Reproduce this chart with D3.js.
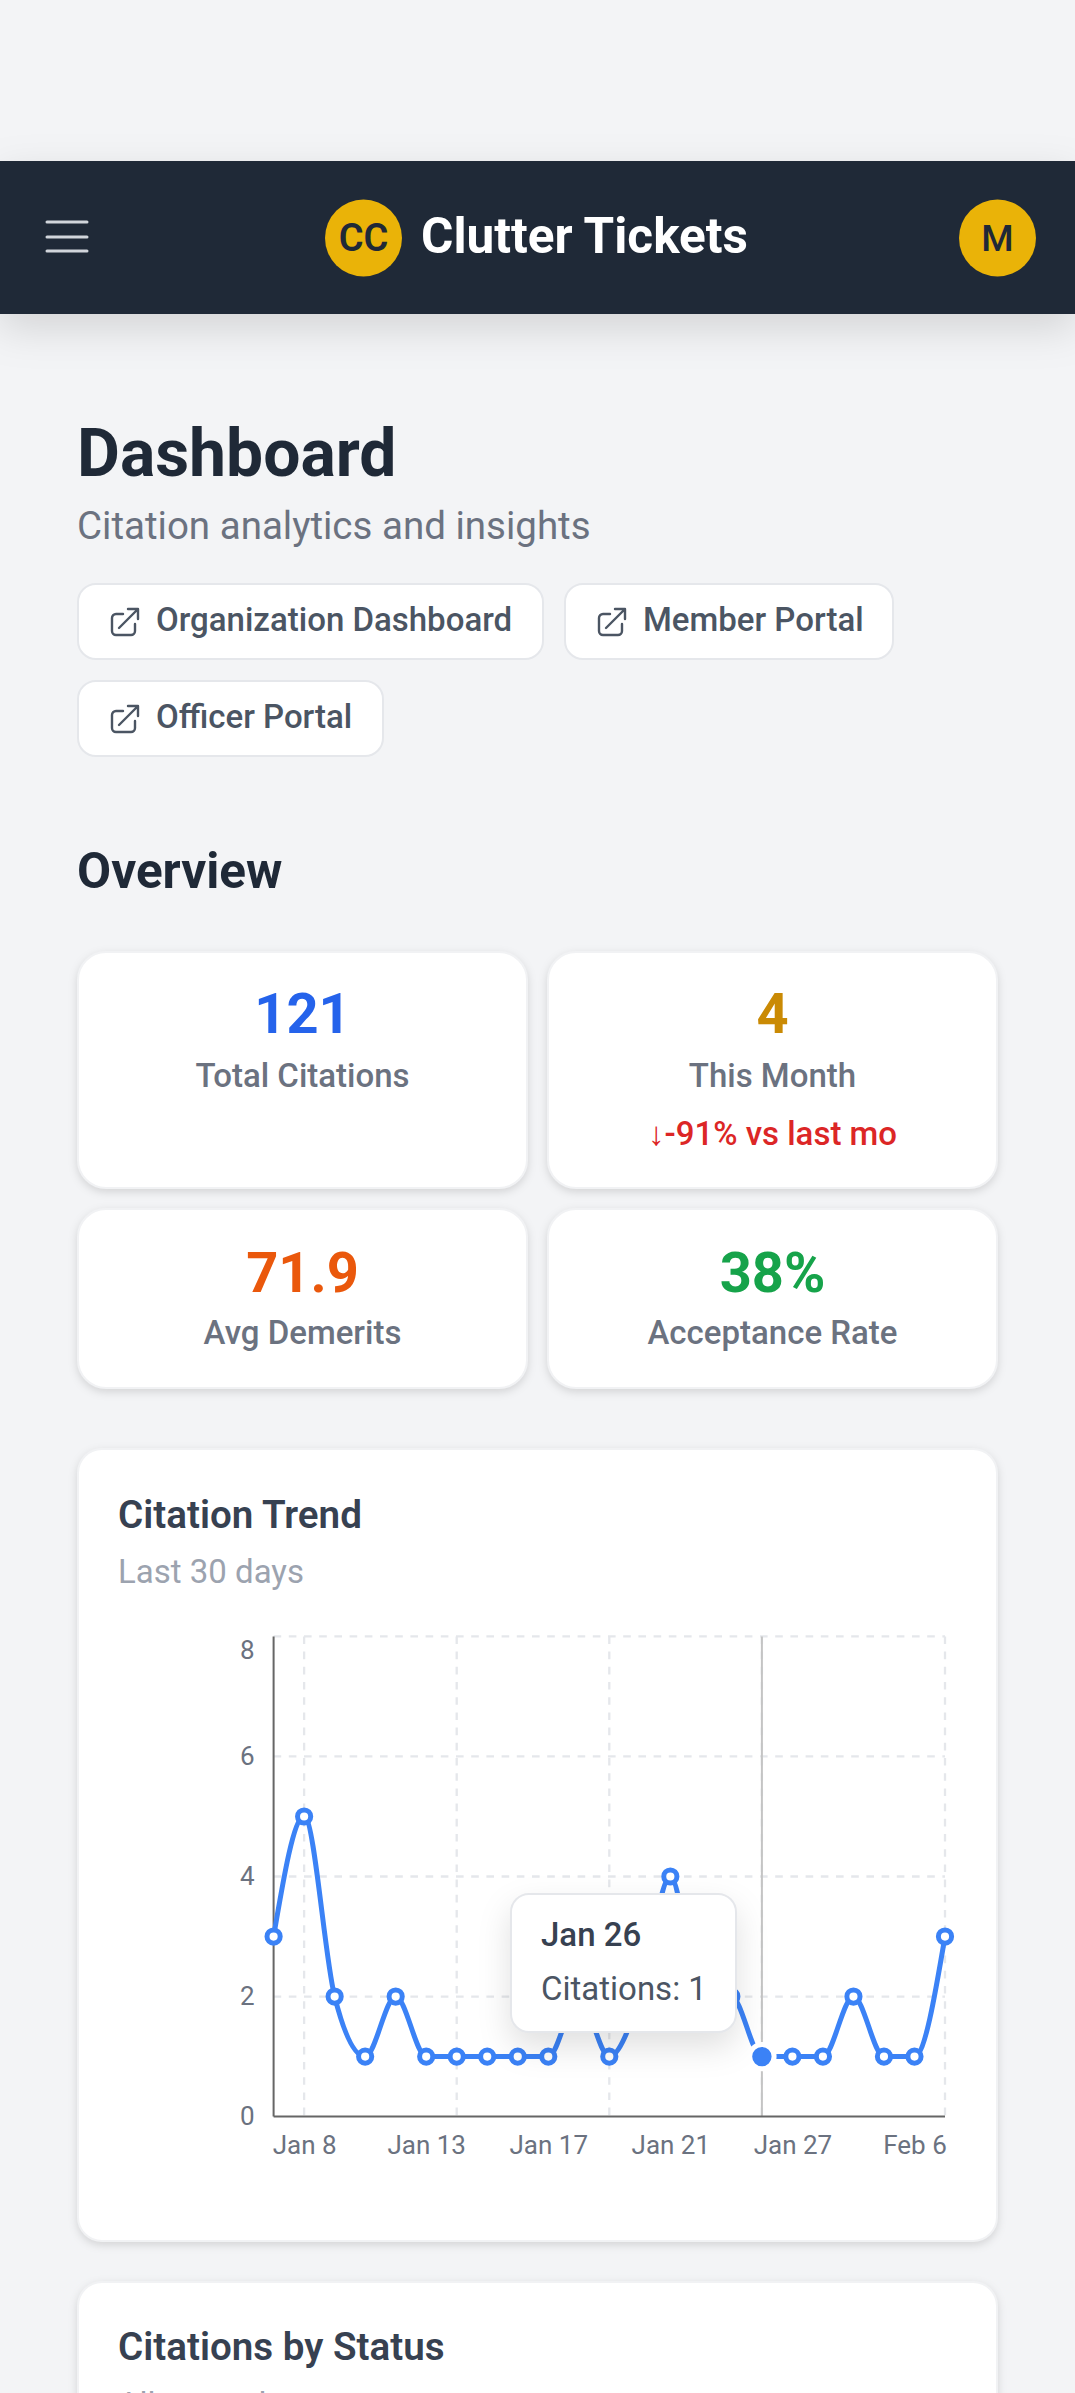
<!DOCTYPE html>
<html>
<head>
<meta charset="utf-8">
<title>Clutter Tickets</title>
<script src="https://cdn.jsdelivr.net/npm/d3@7"></script>
<style>
  html, body { margin: 0; padding: 0; background: #f3f4f6; overflow: hidden; }
  svg { display: block; font-family: Roboto, sans-serif; }
  .card { fill: #fff; stroke: #f1f2f4; stroke-width: 2; filter: drop-shadow(0 3px 4px rgba(0,0,0,0.13)); }
  .tick-label { font-size: 26px; fill: #6b7280; }
</style>
</head>
<body>
<div id="page"></div>
<script>
// chart data
const trendDates = ['Jan 7', 'Jan 8', 'Jan 9', 'Jan 10', 'Jan 11', 'Jan 13', 'Jan 14', 'Jan 15', 'Jan 16', 'Jan 17', 'Jan 18', 'Jan 19',
    'Jan 20', 'Jan 21', 'Jan 22', 'Jan 23', 'Jan 26', 'Jan 27', 'Jan 29', 'Feb 1', 'Feb 3', 'Feb 6', 'Feb 7']
const trendValues = [3, 5, 2, 1, 2, 1, 1, 1, 1, 1, 2, 1, 2, 4, 2, 2, 1, 1, 1, 2, 1, 1, 3]
const yTicks = [0, 2, 4, 6, 8]
const xLabelDates = ['Jan 8', 'Jan 13', 'Jan 17', 'Jan 21', 'Jan 27', 'Feb 6']
const xGridDates = ['Jan 8', 'Jan 14', 'Jan 19', 'Jan 26', 'Feb 7']
const activeDate = 'Jan 26'

const statValues = ['121', '4', '71.9', '38%']
const statLabels = ['Total Citations', 'This Month', 'Avg Demerits', 'Acceptance Rate']
const statColors = ['#2563eb', '#ca8a04', '#ea580c', '#16a34a']
const linkLabels = ['Organization Dashboard', 'Member Portal', 'Officer Portal']

const width = 1075
const height = 2393

const svg = d3.select('#page').append('svg')
    .attr('width', width)
    .attr('height', height)

function addText(parent, str, x, y, size, weight, color, anchor) {
    return parent.append('text')
        .attr('x', x)
        .attr('y', y)
        .attr('text-anchor', anchor || 'start')
        .style('font-size', size + 'px')
        .style('font-weight', weight)
        .attr('fill', color)
        .text(str)
}

drawHeader()
drawIntro()
drawStats()
drawTrendCard()
drawStatusCard()

function drawHeader() {
    let header = svg.append('g')

    header.append('rect')
        .attr('y', 161)
        .attr('width', width)
        .attr('height', 153)
        .attr('fill', '#1f2937')
        .style('filter', 'drop-shadow(0 14px 20px rgba(0,0,0,0.13))')

    header.selectAll('.burger')
        .data([222, 237, 251])
        .join('line')
        .attr('x1', 47)
        .attr('x2', 87)
        .attr('y1', d => d)
        .attr('y2', d => d)
        .attr('stroke', '#d1d5db')
        .attr('stroke-width', 3)
        .attr('stroke-linecap', 'round')

    header.append('circle').attr('cx', 363.5).attr('cy', 238).attr('r', 38.5).attr('fill', '#eab308')
    addText(header, 'CC', 363.5, 251, 38, 600, '#1f2937', 'middle')
    addText(header, 'Clutter Tickets', 421, 253, 49.5, 700, '#fff')

    header.append('circle').attr('cx', 997.5).attr('cy', 238).attr('r', 38.5).attr('fill', '#eab308')
    addText(header, 'M', 997.5, 251, 37, 500, '#1f2937', 'middle')
}

function drawIntro() {
    addText(svg, 'Dashboard', 77, 476, 66, 700, '#1f2937')
    addText(svg, 'Citation analytics and insights', 77, 539, 38.5, 400, '#6b7280')

    let boxes = [
        { x: 78, y: 584, w: 465 },
        { x: 565, y: 584, w: 328 },
        { x: 78, y: 681, w: 305 },
    ]

    boxes.forEach((b, i) => {
        let link = svg.append('g').attr('transform', `translate(${b.x},${b.y})`)

        link.append('rect')
            .attr('width', b.w)
            .attr('height', 75)
            .attr('rx', 18)
            .attr('fill', '#fff')
            .attr('stroke', '#e5e7eb')
            .attr('stroke-width', 2)

        link.append('path')
            .attr('transform', 'translate(32,23)')
            .attr('d', 'M13 7 H6 a4 4 0 0 0 -4 4 V24 a4 4 0 0 0 4 4 H21 a4 4 0 0 0 4 -4 V17 M9 21 L28 2 M18 2 H28 V12')
            .attr('fill', 'none')
            .attr('stroke', '#4b5563')
            .attr('stroke-width', 2.4)
            .attr('stroke-linecap', 'round')
            .attr('stroke-linejoin', 'round')

        addText(link, linkLabels[i], 78, 47, 33, 500, '#4b5563')
    })

    addText(svg, 'Overview', 77, 888, 49.5, 700, '#1f2937')
}

function drawStats() {
    let cells = [
        { x: 78, y: 952, w: 449, h: 236, valueY: 81 },
        { x: 548, y: 952, w: 449, h: 236, valueY: 81 },
        { x: 78, y: 1209, w: 449, h: 179, valueY: 83 },
        { x: 548, y: 1209, w: 449, h: 179, valueY: 83 },
    ]

    cells.forEach((c, i) => {
        svg.append('rect')
            .attr('class', 'card')
            .attr('x', c.x)
            .attr('y', c.y)
            .attr('width', c.w)
            .attr('height', c.h)
            .attr('rx', 28)

        addText(svg, statValues[i], c.x + c.w / 2, c.y + c.valueY, 56, 700, statColors[i], 'middle')
        addText(svg, statLabels[i], c.x + c.w / 2, c.y + 135, 33, 500, '#6b7280', 'middle')
    })

    addText(svg, '↓-91% vs last mo', 772.5, 1145, 33, 500, '#dc2626', 'middle')
}

function drawTrendCard() {
    svg.append('rect')
        .attr('class', 'card')
        .attr('x', 78)
        .attr('y', 1449)
        .attr('width', 919)
        .attr('height', 792)
        .attr('rx', 24)

    addText(svg, 'Citation Trend', 118, 1528, 38.6, 600, '#374151')
    addText(svg, 'Last 30 days', 118, 1583, 33, 400, '#9ca3af')

    let xScale = d3.scalePoint()
        .domain(trendDates)
        .range([273.6, 945])

    let yScale = d3.scaleLinear()
        .domain([0, 8])
        .range([2116.6, 1636.4])

    let chart = svg.append('g')

    // dashed grid
    chart.selectAll('.grid-h')
        .data(yTicks.slice(1))
        .join('line')
        .attr('x1', xScale.range()[0])
        .attr('x2', xScale.range()[1])
        .attr('y1', d => yScale(d))
        .attr('y2', d => yScale(d))

    chart.selectAll('.grid-v')
        .data(xGridDates)
        .join('line')
        .attr('x1', d => xScale(d))
        .attr('x2', d => xScale(d))
        .attr('y1', yScale(8))
        .attr('y2', yScale(0))

    chart.selectAll('line')
        .attr('stroke', '#e5e7eb')
        .attr('stroke-width', 2.3)
        .attr('stroke-dasharray', '7.6 7.6')

    // hover cursor
    chart.append('line')
        .attr('x1', xScale(activeDate))
        .attr('x2', xScale(activeDate))
        .attr('y1', yScale(8))
        .attr('y2', yScale(0))
        .attr('stroke', '#c4c4c4')
        .attr('stroke-width', 2)

    let xAxis = d3.axisBottom(xScale)
        .tickValues(xLabelDates)
        .tickSize(0)
        .tickPadding(19)

    let yAxis = d3.axisLeft(yScale)
        .tickValues(yTicks)
        .tickSize(0)
        .tickPadding(19)

    let xGroup = chart.append('g')
        .attr('transform', `translate(0,${yScale(0)})`)
        .call(xAxis)

    let yGroup = chart.append('g')
        .attr('transform', `translate(${xScale.range()[0]},0)`)
        .call(yAxis)

    chart.selectAll('.domain')
        .attr('stroke', '#666')
        .attr('stroke-width', 2)
        .attr('d', function () {
            return this.parentNode === xGroup.node()
                ? `M${xScale.range()[0]},0H${xScale.range()[1]}`
                : `M0,${yScale.range()[0]}V${yScale.range()[1]}`
        })

    chart.selectAll('.tick text')
        .attr('class', 'tick-label')
        .style('font-family', 'Roboto, sans-serif')

    // top label sits below the plot edge
    yGroup.selectAll('.tick text')
        .filter(d => d === 8)
        .attr('dy', '0.85em')

    let line = d3.line()
        .x((d, i) => xScale(trendDates[i]))
        .y(d => yScale(d))
        .curve(d3.curveMonotoneX)

    chart.append('path')
        .datum(trendValues)
        .attr('d', line)
        .attr('fill', 'none')
        .attr('stroke', '#3b82f6')
        .attr('stroke-width', 5)

    chart.selectAll('.dot')
        .data(trendValues)
        .join('circle')
        .attr('class', 'dot')
        .attr('cx', (d, i) => xScale(trendDates[i]))
        .attr('cy', d => yScale(d))
        .attr('r', (d, i) => trendDates[i] === activeDate ? 12.2 : 6.6)
        .attr('fill', (d, i) => trendDates[i] === activeDate ? '#3b82f6' : '#fff')
        .attr('stroke', (d, i) => trendDates[i] === activeDate ? '#fff' : '#3b82f6')
        .attr('stroke-width', 5)

    // tooltip
    let activeValue = trendValues[trendDates.indexOf(activeDate)]
    let tip = chart.append('g').attr('transform', 'translate(511,1894)')

    tip.append('rect')
        .attr('width', 225)
        .attr('height', 138)
        .attr('rx', 18)
        .attr('fill', '#fff')
        .attr('stroke', '#e5e7eb')
        .attr('stroke-width', 2)
        .style('filter', 'drop-shadow(0 14px 16px rgba(0,0,0,0.12))')

    addText(tip, activeDate, 30, 52, 33, 500, '#374151')
    addText(tip, 'Citations: ' + activeValue, 30, 106, 33, 400, '#4b5563')
}

function drawStatusCard() {
    svg.append('rect')
        .attr('class', 'card')
        .attr('x', 78)
        .attr('y', 2282)
        .attr('width', 919)
        .attr('height', 300)
        .attr('rx', 24)

    addText(svg, 'Citations by Status', 118, 2360, 38.6, 600, '#374151')
    addText(svg, 'All cases by status', 118, 2416, 33, 400, '#9ca3af')
}
</script>
</body>
</html>
